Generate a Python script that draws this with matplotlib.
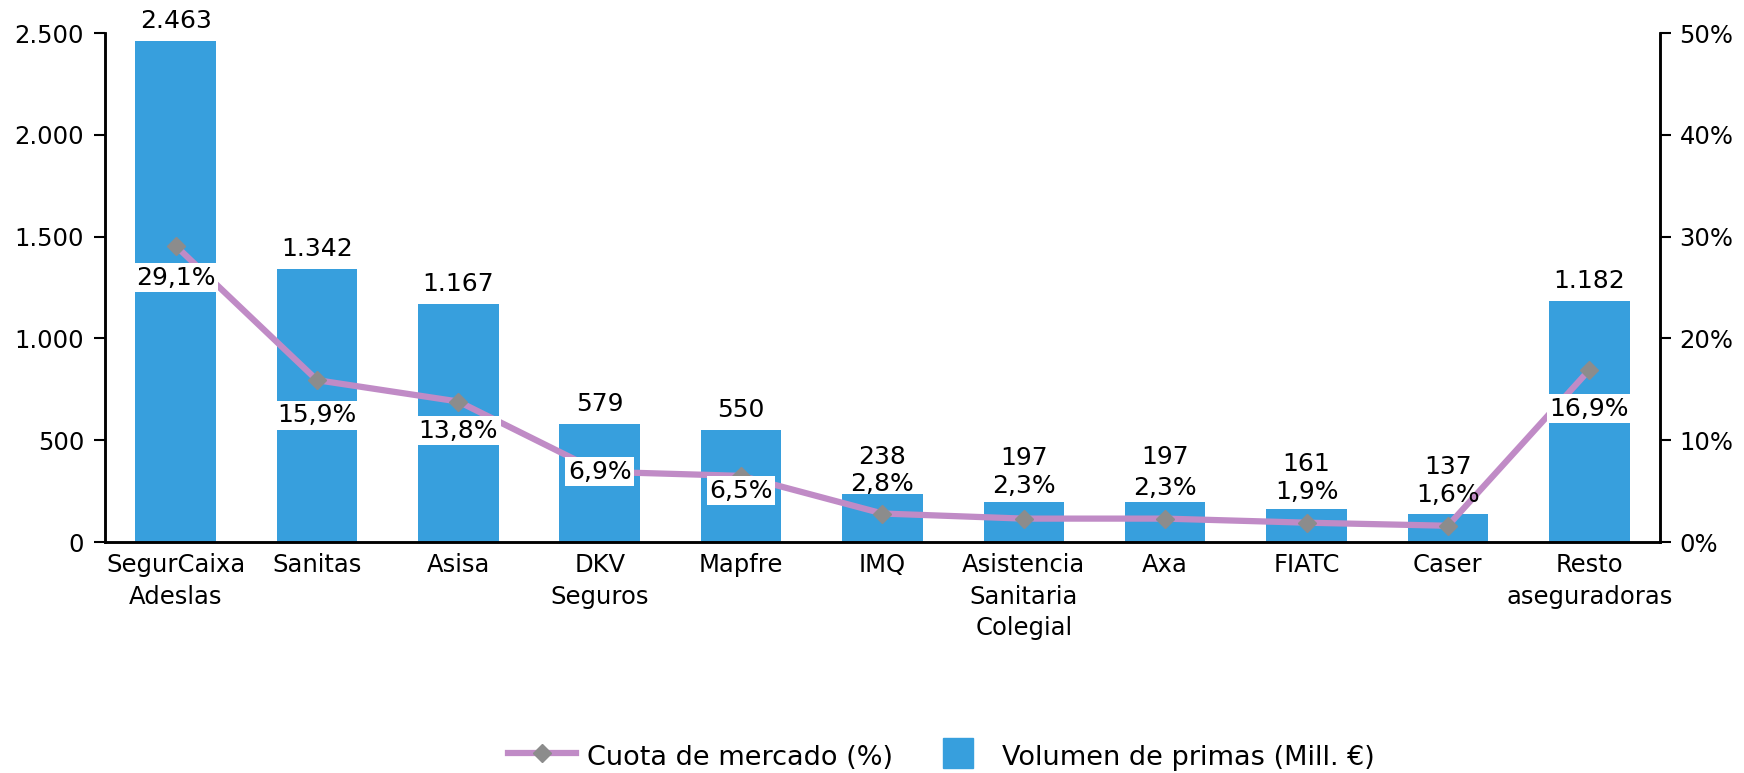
import numpy as np
import matplotlib
matplotlib.use("Agg")
import matplotlib.pyplot as plt
from matplotlib.lines import Line2D

plt.rcParams['font.family'] = ['DejaVu Sans']

companies = ["SegurCaixa\nAdeslas", "Sanitas", "Asisa", "DKV\nSeguros", "Mapfre", "IMQ",
             "Asistencia\nSanitaria\nColegial", "Axa", "FIATC", "Caser", "Resto\naseguradoras"]
primas = [2463, 1342, 1167, 579, 550, 238, 197, 197, 161, 137, 1182]
cuota = [29.1, 15.9, 13.8, 6.9, 6.5, 2.8, 2.3, 2.3, 1.9, 1.6, 16.9]

# label offsets in pixels (style)
pct_dy = [-32, -35, -29, 0, -15, 30, 33, 31, 31, 31, -39]
val_dy = [20, 20, 20, 20, 20, 37, 44, 45, 45, 47, 20]

bar_color = "#379FDD"
line_color = "#C08BC6"
marker_color = "#8C8C8C"

fig = plt.figure(figsize=(17.44, 7.73), dpi=100)
ax = fig.add_axes([0.0602, 0.2988, 0.8916, 0.6585])
ax2 = ax.twinx()

x = np.arange(len(companies))
ax.bar(x, primas, width=0.57, color=bar_color, zorder=2)
ax.set_ylim(0, 2500)
ax.set_xlim(-0.5, len(companies) - 0.5)
ax.set_yticks([0, 500, 1000, 1500, 2000, 2500])
ax.set_yticklabels(["0", "500", "1.000", "1.500", "2.000", "2.500"])
ax.set_xticks(x)
ax.set_xticklabels(companies, fontsize=17.5, linespacing=1.4)
ax.tick_params(axis='x', length=0, pad=8)
ax.tick_params(axis='y', labelsize=17.5, length=8, width=1.5, pad=7)

ax2.plot(x, cuota, color=line_color, lw=4.5, marker='D', markersize=9,
         markerfacecolor=marker_color, markeredgecolor=marker_color, zorder=3)
ax2.set_ylim(0, 50)
ax2.set_yticks([0, 10, 20, 30, 40, 50])
ax2.set_yticklabels([f"{v}%" for v in [0, 10, 20, 30, 40, 50]])
ax2.tick_params(axis='y', labelsize=17.5, length=8, width=1.5, pad=6)

for a in (ax, ax2):
    a.spines['top'].set_visible(False)
    for s in ('left', 'right', 'bottom'):
        a.spines[s].set_linewidth(1.8)

for i, v in enumerate(primas):
    ax.annotate(f"{v:,}".replace(",", "."), (x[i], v), xytext=(0, val_dy[i]),
                textcoords='offset pixels', ha='center', va='center', fontsize=18, zorder=5)

for i, v in enumerate(cuota):
    boxed = pct_dy[i] <= 0
    ax2.annotate(f"{v:.1f}%".replace(".", ","), (x[i], v), xytext=(0, pct_dy[i]),
                 textcoords='offset pixels', ha='center', va='center', fontsize=18, zorder=6,
                 bbox=dict(boxstyle='square,pad=0.1', fc='white', ec='none') if boxed else None)

handles = [Line2D([0], [0], color=line_color, lw=4.5, marker='D', markersize=9,
                  markerfacecolor=marker_color, markeredgecolor=marker_color),
           Line2D([0], [0], linestyle='none', marker='s', markersize=22,
                  markerfacecolor=bar_color, markeredgecolor=bar_color)]
fig.legend(handles, ["Cuota de mercado (%)", "Volumen de primas (Mill. €)"],
           loc='center', bbox_to_anchor=(0.54, 0.022), ncol=2, frameon=False,
           fontsize=19.5, handlelength=2.5, columnspacing=1.15, handleheight=1.2,
           handletextpad=0.4)

fig.savefig("out.png", dpi=100)
